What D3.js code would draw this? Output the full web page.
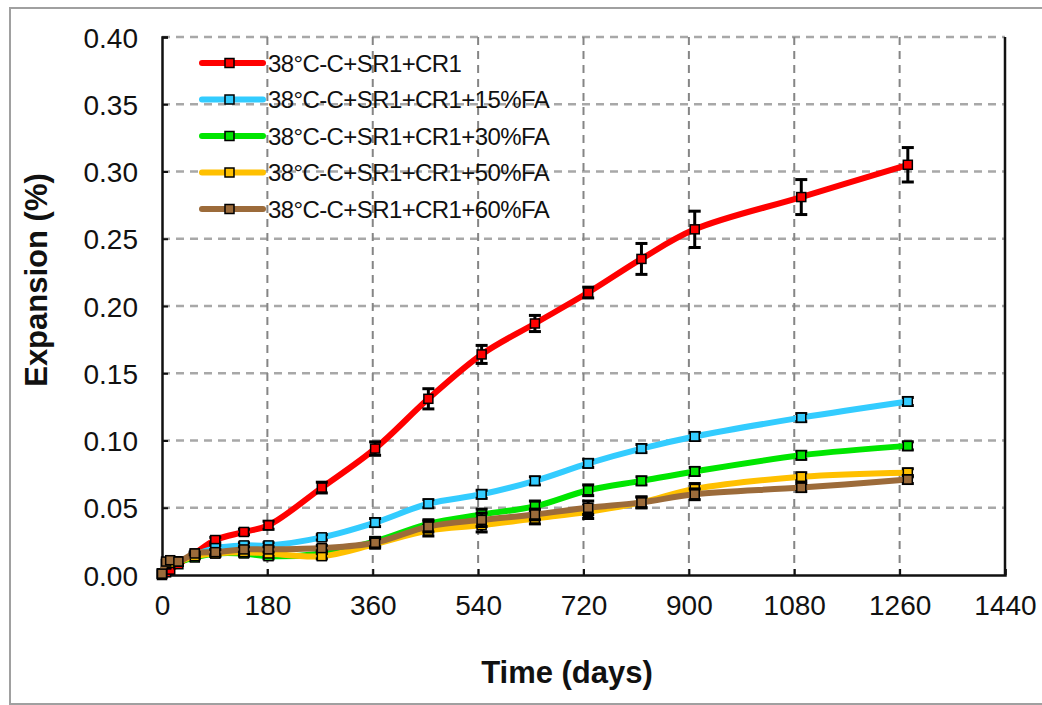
<!DOCTYPE html>
<html>
<head>
<meta charset="utf-8">
<title>Expansion vs time</title>
<script src="https://cdn.jsdelivr.net/npm/d3@7"></script>
<style>
  body { margin: 0; background: #fff; }
  text { font-family: "Liberation Sans", Arial, sans-serif; fill: #111; }
</style>
</head>
<body>
<div id="chart"></div>
<script>
// time in days
var days = [0, 7, 14, 28, 56, 91, 140, 182, 273, 364, 455, 546, 637, 728, 819, 910, 1092, 1274];

var names = ["38°C-C+SR1+CR1", "38°C-C+SR1+CR1+15%FA", "38°C-C+SR1+CR1+30%FA", "38°C-C+SR1+CR1+50%FA", "38°C-C+SR1+CR1+60%FA"];
var colors = ["#ff0000", "#33ccff", "#00e600", "#ffc000", "#9c6b3a"];

// expansion (%)
var cr1   = [0, 0.002, 0.004, 0.008, 0.016, 0.026, 0.032, 0.037, 0.065, 0.094, 0.131, 0.164, 0.187, 0.210, 0.235, 0.257, 0.281, 0.305];
var fa15  = [0.001, 0.009, 0.010, 0.010, 0.015, 0.020, 0.022, 0.022, 0.028, 0.039, 0.053, 0.060, 0.070, 0.083, 0.094, 0.103, 0.117, 0.129];
var fa30  = [0.001, 0.008, 0.010, 0.010, 0.013, 0.016, 0.016, 0.014, 0.016, 0.025, 0.038, 0.045, 0.051, 0.063, 0.070, 0.077, 0.089, 0.096];
var fa50  = [0.001, 0.008, 0.009, 0.010, 0.014, 0.016, 0.017, 0.016, 0.014, 0.023, 0.033, 0.037, 0.042, 0.047, 0.054, 0.064, 0.073, 0.076];
var fa60  = [0.001, 0.010, 0.011, 0.010, 0.016, 0.017, 0.019, 0.019, 0.020, 0.024, 0.036, 0.041, 0.045, 0.050, 0.054, 0.060, 0.065, 0.071];

// error bar half-heights
var cr1Err  = [0, 0, 0, 0, 0.001, 0.002, 0.002, 0.003, 0.004, 0.005, 0.0075, 0.0067, 0.006, 0.004, 0.0115, 0.0135, 0.013, 0.0128];
var fa15Err = [0, 0, 0, 0, 0.001, 0.002, 0.002, 0.002, 0.002, 0.003, 0.003, 0.003, 0.003, 0.003, 0.003, 0.003, 0.003, 0.003];
var fa30Err = [0, 0, 0, 0, 0.001, 0.002, 0.002, 0.002, 0.002, 0.003, 0.003, 0.004, 0.004, 0.004, 0.003, 0.003, 0.003, 0.003];
var fa50Err = [0, 0, 0, 0, 0.001, 0.002, 0.002, 0.002, 0.002, 0.003, 0.004, 0.005, 0.004, 0.005, 0.004, 0.004, 0.003, 0.003];
var fa60Err = [0, 0, 0, 0, 0.001, 0.002, 0.002, 0.002, 0.002, 0.003, 0.004, 0.005, 0.004, 0.005, 0.004, 0.004, 0.003, 0.003];

var xTicks = [0, 180, 360, 540, 720, 900, 1080, 1260, 1440];
var yTicks = [0, 0.05, 0.10, 0.15, 0.20, 0.25, 0.30, 0.35, 0.40];

var values = [cr1, fa15, fa30, fa50, fa60];
var errs = [cr1Err, fa15Err, fa30Err, fa50Err, fa60Err];

var series = names.map(function(n, i) {
	return {
		name: n,
		color: colors[i],
		points: days.map(function(d, j) { return { x: d, y: values[i][j], e: errs[i][j] }; })
	};
});

var W = 1042, H = 705;
var m = { left: 162, right: 1005, top: 37, bottom: 575 };

var svg = d3.select("#chart").append("svg")
	.attr("width", W)
	.attr("height", H);

// outer frame
svg.append("rect")
	.attr("x", 10).attr("y", 8)
	.attr("width", W + 10).attr("height", H - 9)
	.attr("fill", "none")
	.attr("stroke", "#a0a0a0")
	.attr("stroke-width", 2);

var x = d3.scaleLinear().domain([0, 1440]).range([m.left, m.right]);
var y = d3.scaleLinear().domain([0, 0.40]).range([m.bottom, m.top]);

// grid
svg.append("g").selectAll("line")
	.data(yTicks.slice(1))
	.enter().append("line")
	.attr("x1", m.left).attr("x2", m.right)
	.attr("y1", function(d) { return y(d); })
	.attr("y2", function(d) { return y(d); })
	.attr("stroke", "#a8a8a8")
	.attr("stroke-width", 2.5)
	.attr("stroke-dasharray", "8,6");

svg.append("g").selectAll("line")
	.data(xTicks.slice(1, -1))
	.enter().append("line")
	.attr("y1", m.top).attr("y2", m.bottom)
	.attr("x1", function(d) { return x(d); })
	.attr("x2", function(d) { return x(d); })
	.attr("stroke", "#858585")
	.attr("stroke-width", 2)
	.attr("stroke-dasharray", "8,6");

// axes (ticks point inward)
var xAxis = d3.axisBottom(x).tickValues(xTicks).tickSize(-6).tickPadding(20).tickFormat(d3.format("d"));
var yAxis = d3.axisLeft(y).tickValues(yTicks).tickSize(-6).tickPadding(24).tickFormat(d3.format(".2f"));

var gx = svg.append("g").attr("transform", "translate(0," + m.bottom + ")").call(xAxis);
var gy = svg.append("g").attr("transform", "translate(" + m.left + ",0)").call(yAxis);

[gx, gy].forEach(function(g) {
	g.select(".domain").attr("stroke", "#111").attr("stroke-width", 2.5);
	g.selectAll(".tick line").attr("stroke", "#111").attr("stroke-width", 2);
	g.selectAll(".tick text")
		.style("font-size", "28px")
		.style("font-family", "'Liberation Sans', Arial, sans-serif")
		.attr("fill", "#111");
});
gx.selectAll(".tick text").attr("dy", "0.71em");
gy.selectAll(".tick text").attr("dy", "0.36em");

// right border
svg.append("line")
	.attr("x1", m.right).attr("x2", m.right)
	.attr("y1", m.top).attr("y2", m.bottom)
	.attr("stroke", "#111").attr("stroke-width", 2.5);

// axis titles
svg.append("text")
	.attr("x", 567).attr("y", 683)
	.attr("text-anchor", "middle")
	.style("font-size", "31px")
	.style("font-weight", "bold")
	.text("Time (days)");

svg.append("text")
	.attr("transform", "translate(47,280) rotate(-90)")
	.attr("text-anchor", "middle")
	.style("font-size", "31px")
	.style("font-weight", "bold")
	.text("Expansion (%)");

// series
var line = d3.line()
	.x(function(d) { return x(d.x); })
	.y(function(d) { return y(d.y); })
	.curve(d3.curveCatmullRom.alpha(0.5));

var sg = svg.selectAll(".series")
	.data(series)
	.enter().append("g")
	.attr("class", "series");

sg.append("path")
	.attr("d", function(d) { return line(d.points); })
	.attr("fill", "none")
	.attr("stroke", function(d) { return d.color; })
	.attr("stroke-width", 6)
	.attr("stroke-linejoin", "round")
	.attr("stroke-linecap", "round");

var eb = sg.selectAll(".err")
	.data(function(d) { return d.points.filter(function(p) { return p.e > 0; }); })
	.enter().append("g")
	.attr("class", "err")
	.attr("stroke", "#000")
	.attr("stroke-width", 3);
eb.append("line")
	.attr("x1", function(p) { return x(p.x); })
	.attr("x2", function(p) { return x(p.x); })
	.attr("y1", function(p) { return y(p.y - p.e); })
	.attr("y2", function(p) { return y(p.y + p.e); });
eb.append("line")
	.attr("x1", function(p) { return x(p.x) - 6; })
	.attr("x2", function(p) { return x(p.x) + 6; })
	.attr("y1", function(p) { return y(p.y + p.e); })
	.attr("y2", function(p) { return y(p.y + p.e); });
eb.append("line")
	.attr("x1", function(p) { return x(p.x) - 6; })
	.attr("x2", function(p) { return x(p.x) + 6; })
	.attr("y1", function(p) { return y(p.y - p.e); })
	.attr("y2", function(p) { return y(p.y - p.e); });

sg.each(function(s) {
	d3.select(this).selectAll(".mk")
		.data(s.points)
		.enter().append("rect")
		.attr("class", "mk")
		.attr("x", function(p) { return x(p.x) - 4.5; })
		.attr("y", function(p) { return y(p.y) - 4.5; })
		.attr("width", 9).attr("height", 9)
		.attr("fill", s.color)
		.attr("stroke", "#000")
		.attr("stroke-width", 1.5);
});

// legend
var lg = svg.selectAll(".legend")
	.data(series)
	.enter().append("g")
	.attr("class", "legend")
	.attr("transform", function(d, i) { return "translate(202," + (63 + i * 36.5) + ")"; });

lg.append("line")
	.attr("x1", 0).attr("x2", 61)
	.attr("y1", 0).attr("y2", 0)
	.attr("stroke", function(d) { return d.color; })
	.attr("stroke-width", 6)
	.attr("stroke-linecap", "round");
lg.append("rect")
	.attr("x", 23).attr("y", -4.5)
	.attr("width", 9).attr("height", 9)
	.attr("fill", function(d) { return d.color; })
	.attr("stroke", "#000")
	.attr("stroke-width", 1.5);
lg.append("text")
	.attr("x", 66).attr("y", 8.5)
	.style("font-size", "24px")
	.style("letter-spacing", "-0.6px")
	.text(function(d) { return d.name; });
</script>
</body>
</html>
